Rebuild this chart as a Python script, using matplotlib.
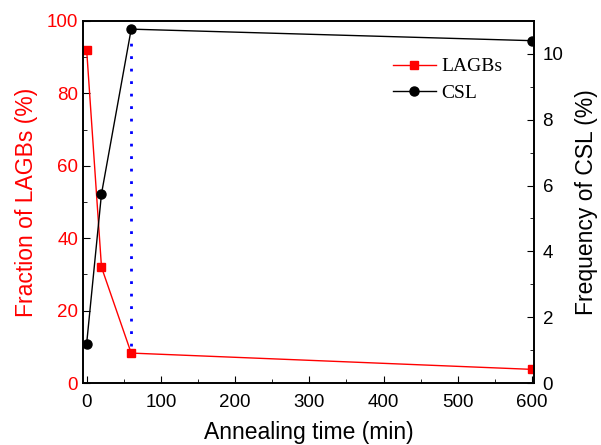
import matplotlib.pyplot as plt
from matplotlib.ticker import MultipleLocator

# data
time = [0, 20, 60, 600]
lagb = [92, 32, 8.3, 3.8]     # Fraction of LAGBs (%)
csl = [1.2, 5.75, 10.75, 10.4]  # Frequency of CSL (%)

plt.rcParams['font.family'] = ['Liberation Sans', 'DejaVu Sans']

fig = plt.figure(figsize=(6.01, 4.45), dpi=100)
ax = fig.add_axes([0.138, 0.139, 0.751, 0.814])
ax2 = ax.twinx()

l1, = ax.plot(time, lagb, color='red', marker='s', markersize=6, lw=1, label='LAGBs')
l2, = ax2.plot(time, csl, color='black', marker='o', markersize=6.5, lw=1, label='CSL')

ax.set_xlim(-5, 603)
ax.set_ylim(0, 100)
ax2.set_ylim(0, 11)

# dotted guide at 60 min, between the two curves
ax.vlines(time[2], lagb[2] + 2, csl[2] * 100 / 11 - 1, colors='blue',
          linestyles=(0, (1, 3.5)), lw=2)

ax.xaxis.set_major_locator(MultipleLocator(100))
ax.xaxis.set_minor_locator(MultipleLocator(50))
ax.yaxis.set_major_locator(MultipleLocator(20))
ax.yaxis.set_minor_locator(MultipleLocator(10))
ax2.yaxis.set_major_locator(MultipleLocator(2))
ax2.yaxis.set_minor_locator(MultipleLocator(1))

ax.tick_params(which='both', direction='in', top=False, right=False, labelsize=13.5)
ax.tick_params(which='major', length=5)
ax.tick_params(which='minor', length=3)
ax.tick_params(axis='y', labelcolor='red')
ax.tick_params(axis='x', pad=8)
ax2.tick_params(which='both', direction='in', labelsize=13.5, pad=6)
ax2.tick_params(which='major', length=5)
ax2.tick_params(which='minor', length=3)

for a in (ax, ax2):
    for s in a.spines.values():
        s.set_linewidth(1.2)

ax.set_xlabel('Annealing time (min)', fontsize=16.5, labelpad=7)
ax.set_ylabel('Fraction of LAGBs (%)', fontsize=16.5, color='red', labelpad=6)
ax2.set_ylabel('Frequency of CSL (%)', fontsize=16.5, labelpad=8)

ax.legend([l1, l2], ['LAGBs', 'CSL'], loc='upper left', bbox_to_anchor=(0.665, 0.925),
          frameon=False, prop={'family': 'Liberation Serif', 'size': 14},
          handlelength=2.2, handletextpad=0.3, labelspacing=0.45, borderpad=0)

fig.savefig('out.png', dpi=100)
